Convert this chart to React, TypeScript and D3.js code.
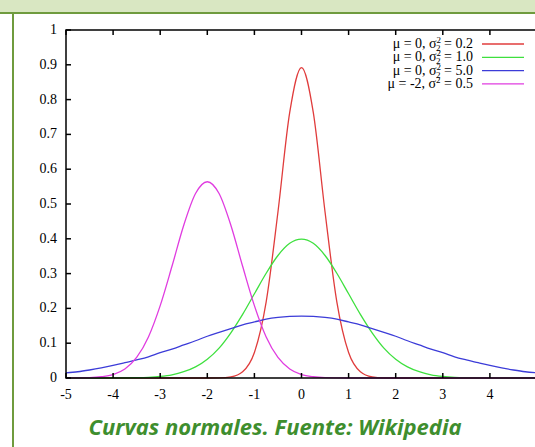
import * as d3 from 'd3';

const xs = d3.range(41).map(i => -5 + i * 0.25);
const z = (n: number) => new Array(n).fill(0);
const half = (a: number[]) => [...a, ...a.slice(0, -1).reverse()];

const red = half([...z(13), 0.0004, 0.0032, 0.0179, 0.0732, 0.219, 0.477, 0.763, 0.892]);
const green = half([...z(4), 0.0001, 0.0004, 0.0009, 0.002, 0.0044, 0.009, 0.018, 0.032, 0.054, 0.086, 0.13, 0.183, 0.242, 0.301, 0.352, 0.387, 0.399]);
const blue = half([0.015, 0.018, 0.023, 0.029, 0.036, 0.044, 0.052, 0.061, 0.073, 0.083, 0.095, 0.107, 0.12, 0.131, 0.142, 0.153, 0.161, 0.169, 0.174, 0.177, 0.178]);
const magenta = [0.0001, 0.0003, 0.001, 0.0036, 0.01, 0.026, 0.059, 0.118, 0.208, 0.321, 0.439, 0.53, 0.564, 0.53, 0.439, 0.321, 0.208, 0.118, 0.059, 0.026, 0.01, 0.0036, 0.001, 0.0003, ...z(17)];

const series = [
  { mu: ' 0', s: '2', v: '0.2', color: '#e03c3c', data: red },
  { mu: ' 0', s: '2', v: '1.0', color: '#3ee03e', data: green },
  { mu: ' 0', s: '2', v: '5.0', color: '#3c3cd8', data: blue },
  { mu: '-2', s: '', v: '0.5', color: '#e03ce0', data: magenta },
];
const xTicks = d3.range(-5, 6);
const yTicks = d3.range(0, 11).map(i => i / 10);

export default function App() {
  const x = d3.scaleLinear().domain([-5, 5]).range([66, 537]);
  const y = d3.scaleLinear().domain([0, 1]).range([378, 30]);
  const line = d3.line<number>().x((_, i) => x(xs[i])).y(d => y(d)).curve(d3.curveMonotoneX);
  const font = "'Liberation Serif', 'Times New Roman', 'DejaVu Serif', serif";
  return (
    <svg width={535} height={447} style={{ position: 'absolute', left: 0, top: 0 }}>
      <rect width={535} height={447} fill="#fff" />
      <rect width={535} height={12} fill="#d9e7c2" />
      <rect y={12} width={535} height={2} fill="#6f9b3e" />
      <rect x={12} y={12} width={2} height={435} fill="#6f9b3e" />
      <g style={{ fontFamily: font }} fontSize={14} fill="#000">
        {series.map(s => (
          <path key={s.color} d={line(s.data) || ''} fill="none" stroke={s.color} strokeWidth={1.3} />
        ))}
        <path d={`M537,${y(1)}H${x(-5)}V${y(0)}H537`} fill="none" stroke="#000" strokeWidth={1.5} />
        {xTicks.map(t => (
          <g key={t}>
            <line x1={x(t)} x2={x(t)} y1={y(0)} y2={y(0) - 5} stroke="#000" strokeWidth={1.5} />
            <line x1={x(t)} x2={x(t)} y1={y(1)} y2={y(1) + 5} stroke="#000" strokeWidth={1.5} />
            {t < 5 && <text x={x(t)} y={399} textAnchor="middle">{t}</text>}
          </g>
        ))}
        {yTicks.map(t => (
          <g key={t}>
            <line x1={x(-5)} x2={x(-5) + 5} y1={y(t)} y2={y(t)} stroke="#000" strokeWidth={1.5} />
            <text x={57} y={y(t) + 4} textAnchor="end">{t}</text>
          </g>
        ))}
        {series.map((s, i) => (
          <g key={'l' + i}>
            <text x={473} y={48 + i * 13.3} textAnchor="end" fontSize={14}>
              μ = {s.mu}, σ<tspan dy={-5} fontSize={9}>2</tspan>
              {s.s && <tspan dx={-5} dy={8} fontSize={9}>{s.s}</tspan>}
              <tspan dy={s.s ? -3 : 5}> = {s.v}</tspan>
            </text>
            <line x1={482} x2={524} y1={44 + i * 13.3} y2={44 + i * 13.3} stroke={s.color} strokeWidth={1.3} />
          </g>
        ))}
      </g>
      <text x={275} y={435} textAnchor="middle" style={{ fontFamily: "'Open Sans', 'Noto Sans', sans-serif" }} fontWeight="bold" fontStyle="italic" fontSize={22} fill="#3e8e2e">
        Curvas normales. Fuente: Wikipedia
      </text>
    </svg>
  );
}
